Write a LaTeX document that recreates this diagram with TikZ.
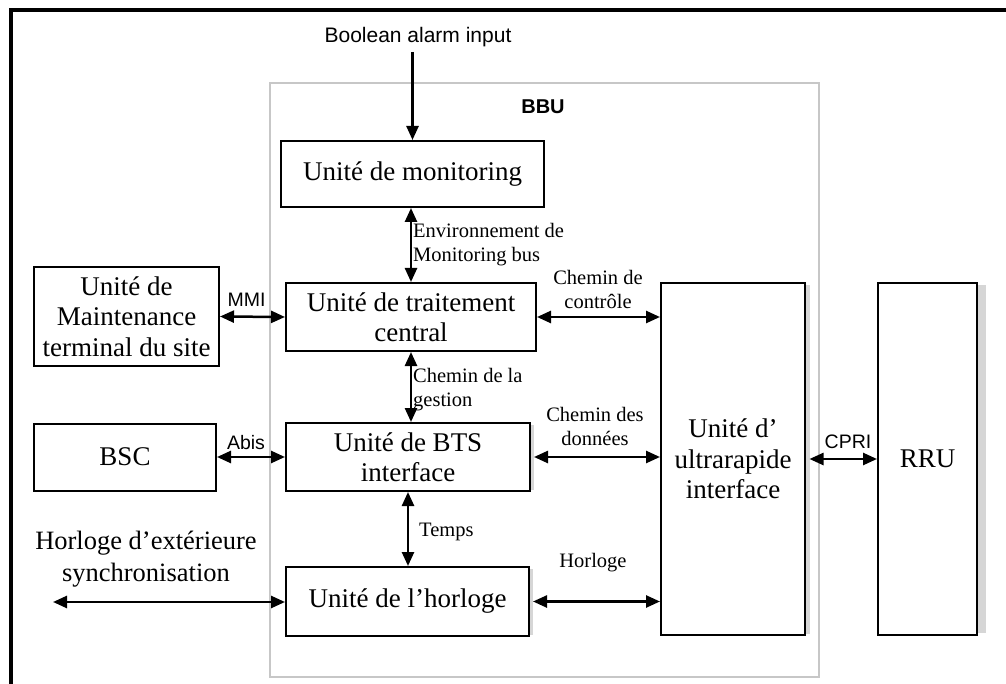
\documentclass[tikz,border=0pt]{standalone}
\usepackage{fontspec}
\setmainfont{Liberation Serif}
\setsansfont{Liberation Sans}
\usetikzlibrary{arrows.meta}
\begin{document}
\begin{tikzpicture}[x=1pt,y=-1pt,
  unit/.style={draw, line width=2pt, inner sep=0pt, align=center,
    font=\fontsize{27}{30.5}\selectfont},
  link/.style={line width=2.5pt,
    {Triangle[length=14pt,width=12pt]}-{Triangle[length=14pt,width=12pt]}},
  feed/.style={line width=2.5pt, -{Triangle[length=14pt,width=12pt]}},
  tag/.style={font=\sffamily\fontsize{19.5}{22}\selectfont, inner sep=0pt},
  note/.style={font=\fontsize{20.5}{23.5}\selectfont, inner sep=0pt},
  shade/.style={fill=black!16},
]
\useasboundingbox (0,0) rectangle (1006,684);

% page frame (top and left rules)
\draw[line width=3.8pt] (11,684) -- (11,10) -- (1006,10);

% BBU enclosure
\node[draw=black!22, line width=1.6pt, minimum width=549pt, minimum height=594pt,
      inner sep=0pt] (bbu) at (544.5,380) {};
\node[font=\sffamily\bfseries\fontsize{20}{22}\selectfont, inner sep=0pt] (bbulabel) at (543,107) {BBU};

% functional units
\node[unit, minimum width=263pt, minimum height=66pt] (mon) at (412.5,174) {Unité de monitoring};
\node[unit, minimum width=250pt, minimum height=68pt] (trt) at (411,317) {Unité de traitement\\central};
\node[unit, minimum width=185pt, minimum height=99pt] (mnt) at (126.5,316.5) {Unité de\\Maintenance\\terminal du site};
\node[unit, minimum width=182pt, minimum height=67pt] (bsc) at (125,457) {BSC};
\node[unit, minimum width=244pt, minimum height=68pt] (bts) at (408,457) {Unité de BTS\\interface};
\node[unit, minimum width=243pt, minimum height=69pt] (clk) at (407.5,601.5) {Unité de l’horloge};
\node[unit, minimum width=144pt, minimum height=352pt] (ult) at (733,459) {Unité d’\\ultrarapide\\interface};
\node[unit, minimum width=99pt, minimum height=352pt] (rru) at (927.5,459) {RRU};

% drop shadows on the right edges
\fill[shade] ([yshift=-3pt]ult.north east) rectangle ([xshift=3.5pt,yshift=2pt]ult.south east);
\fill[shade] ([yshift=-3pt]rru.north east) rectangle ([xshift=8pt,yshift=3pt]rru.south east);
\fill[shade] ([yshift=-3pt]bts.north east) rectangle ([xshift=3pt,yshift=2pt]bts.south east);
\fill[shade] ([yshift=-3pt]clk.north east) rectangle ([xshift=3pt,yshift=2pt]clk.south east);

% free ends
\coordinate (alarm) at (412.5,52);
\coordinate (extclk) at (53,602);

% connectors
\draw[feed] (alarm) -- (mon.north);
\draw[link] (trt.north |- mon.south) -- (trt.north);
\draw[link] (mnt.east) -- (trt.west);
\draw[link] (trt.east) -- (ult.west |- trt.east);
\draw[link] (trt.south) -- (trt.south |- bts.north);
\draw[link] (bsc.east) -- (bts.west |- bsc.east);
\draw[link] ([xshift=3pt]bts.east) -- (ult.west |- bts.east);
\draw[link] ([xshift=3.5pt]ult.east) -- (rru.west);
\draw[link] (bts.south) -- (bts.south |- clk.north);
\draw[link] ([xshift=3pt]clk.east) -- (ult.west |- clk.east);
\draw[link] (extclk) -- (clk.west |- extclk);

% texts
\node[tag, font=\sffamily\fontsize{21}{24}\selectfont] (alarmtxt) at (418,37) {Boolean alarm input};
\node[note, anchor=west, align=left] (envtxt) at (413,244.5) {Environnement de\\Monitoring bus};
\node[note, align=center] (ctltxt) at (598,289.5) {Chemin de\\contrôle};
\node[note, anchor=west, align=left] (gesttxt) at (413,389.5) {Chemin de la\\gestion};
\node[note, align=center] (datatxt) at (595,426.5) {Chemin des\\données};
\node[note, anchor=west] (temptxt) at (419,532) {Temps};
\node[note] (clktxt) at (593,563) {Horloge};
\node[tag] (mmitxt) at (246.5,299.5) {MMI};
\node[tag] (abistxt) at (246,443) {Abis};
\node[tag] (cpritxt) at (848,442) {CPRI};
\node[align=center, inner sep=0pt, font=\fontsize{26.5}{32}\selectfont] (exttxt) at (146,559)
  {Horloge d’extérieure\\synchronisation};
\end{tikzpicture}
\end{document}
